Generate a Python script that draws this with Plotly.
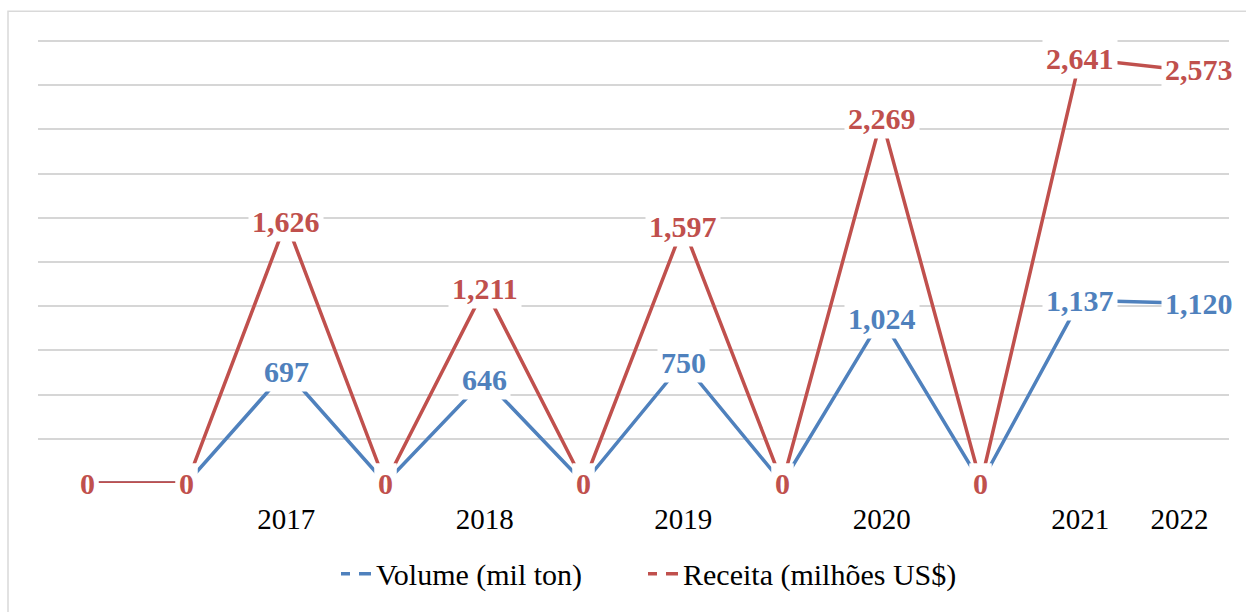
import plotly.graph_objects as go

# Category positions along the x axis (only some carry a year label)
periodos = ["", "", "2017", "", "2018", "", "2019", "", "2020", "", "2021", "2022"]

# Series values
volume = [0, 0, 697, 0, 646, 0, 750, 0, 1024, 0, 1137, 1120]
receita = [0, 0, 1626, 0, 1211, 0, 1597, 0, 2269, 0, 2641, 2573]

AZUL = "#4F81BD"
VERMELHO = "#C0504D"
FONTE = "Liberation Serif"
TOPO = 2750

x = list(range(len(periodos)))

fig = go.Figure()

# Data lines (legend entries are drawn separately with a dashed key)
fig.add_trace(go.Scatter(x=x, y=volume, mode="lines", name="Volume (mil ton)",
                         line=dict(color=AZUL, width=3.5), showlegend=False,
                         hoverinfo="skip"))
fig.add_trace(go.Scatter(x=x, y=receita, mode="lines", name="Receita (milhões US$)",
                         line=dict(color=VERMELHO, width=3.5), showlegend=False,
                         hoverinfo="skip"))

# Legend keys
for nome, cor, largura in [("Volume (mil ton)", AZUL, 262),
                           ("Receita (milhões US$)", VERMELHO, 300)]:
    fig.add_trace(go.Scatter(x=[None], y=[None], mode="lines", name=nome,
                             legendwidth=largura,
                             line=dict(color=cor, width=3.5, dash="9px,9px,12px")))

# Data labels with white boxes, centred on each point
anotacoes = []
ultimo = len(x) - 1
for serie, cor in [(volume, AZUL), (receita, VERMELHO)]:
    for i, v in zip(x, serie):
        anotacoes.append(dict(
            x=i, y=v, xref="x", yref="y",
            text=f"<b>{v:,}</b>", showarrow=False,
            xanchor="center", yanchor="middle",
            xshift=20 if i == ultimo else 0,
            bgcolor="white", borderpad=3,
            font=dict(family=FONTE, size=30, color=cor, weight="bold"),
        ))

fig.update_layout(
    width=1246, height=612,
    margin=dict(l=38, r=17, t=38, b=125),
    paper_bgcolor="white", plot_bgcolor="white",
    font=dict(family=FONTE, size=29, color="black"),
    annotations=anotacoes,
    showlegend=True,
    legend=dict(orientation="h", x=(336 - 38) / 1191, xanchor="left",
                y=-0.204, yanchor="middle",
                font=dict(family=FONTE, size=30, color="black"),
                itemwidth=30, tracegroupgap=0,
                bgcolor="rgba(0,0,0,0)"),
    xaxis=dict(range=[-0.5, len(x) - 0.5], tickmode="array", tickvals=x,
               ticktext=periodos, showgrid=False, zeroline=False, showline=False,
               ticks="", ticklabelstandoff=16,
               tickfont=dict(family=FONTE, size=29, color="black")),
    yaxis=dict(range=[0, TOPO * 1.007], dtick=TOPO / 10, tick0=0, showticklabels=False,
               gridcolor="#d6d6d6", gridwidth=1.6, zeroline=False, showline=False,
               ticks=""),
    shapes=[dict(type="rect", xref="paper", yref="paper",
                 x0=(8 - 38) / 1191, x1=1.2, y0=-0.6, y1=(487 - 11) / 449,
                 line=dict(color="#d9d9d9", width=1.5), fillcolor="rgba(0,0,0,0)",
                 layer="below")],
)

fig.write_html("out.html")
